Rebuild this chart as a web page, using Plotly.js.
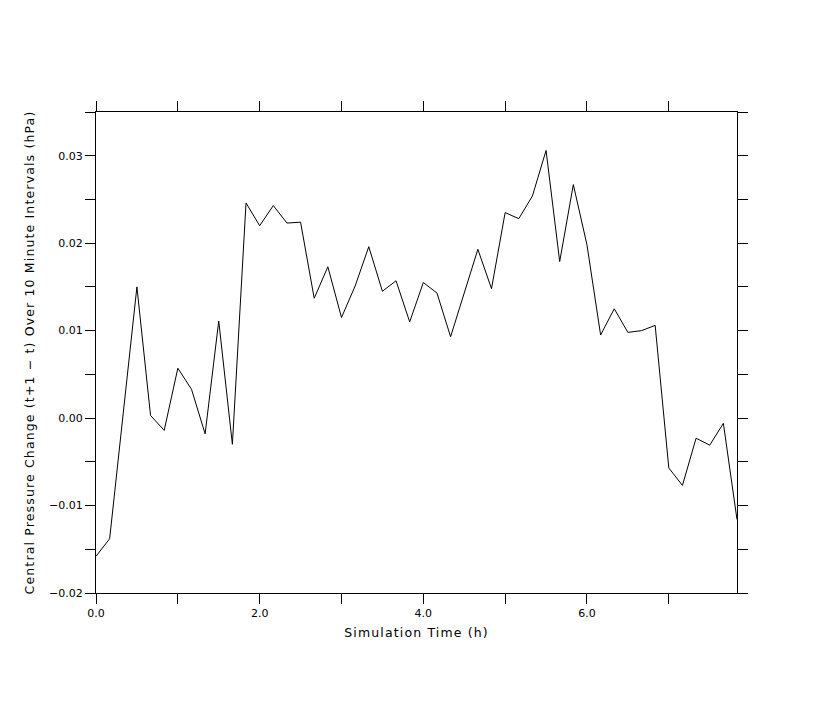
<!DOCTYPE html>
<html>
<head>
<meta charset="utf-8">
<script src="https://cdn.plot.ly/plotly-3.0.1.min.js"></script>
<style>
body{margin:0;background:#fff}
#chart{width:819px;height:706px}
#chart .xtitle, #chart .ytitle {letter-spacing: 1.15px;}
</style>
</head>
<body>
<div id="chart"></div>
<script>
// Time in hours (10-minute steps)
const stepIndex = [0,1,2,3,4,5,6,7,8,9,10,11,12,13,14,15,16,17,18,19,20,21,22,23,24,25,26,27,28,29,30,31,32,33,34,35,36,37,38,39,40,41,42,43,44,45,46,47];
const pressureChange = [
  -0.0158, -0.0138, 0.0006, 0.0150, 0.0003, -0.0014, 0.0057, 0.0033, -0.0018, 0.0111,
  -0.0030, 0.0246, 0.0220, 0.0243, 0.0223, 0.0224, 0.0137, 0.0173, 0.0115, 0.0151,
  0.0196, 0.0145, 0.0157, 0.0110, 0.0155, 0.0143, 0.0093, 0.0142, 0.0193, 0.0148,
  0.0235, 0.0228, 0.0254, 0.0306, 0.0179, 0.0267, 0.0198, 0.0095, 0.0125, 0.0098,
  0.0100, 0.0106, -0.0057, -0.0077, -0.0023, -0.0031, -0.0006, -0.0116
];
const xTickVals = [0,1,2,3,4,5,6,7];
const xTickText = ["0.0","","2.0","","4.0","","6.0",""];
const yTickVals = [-0.02,-0.015,-0.01,-0.005,0,0.005,0.01,0.015,0.02,0.025,0.03,0.035];
const yTickText = ["−0.02","","−0.01","","0.00","","0.01","","0.02","","0.03",""];

const timeHours = stepIndex.map(i => i / 6);

const font = {family: "DejaVu Sans", size: 12, color: "#000"};

Plotly.newPlot("chart", [{
  x: timeHours,
  y: pressureChange,
  type: "scatter",
  mode: "lines",
  line: {color: "#000", width: 1},
  hoverinfo: "skip"
}], {
  width: 819, height: 706,
  margin: {l: 96, r: 82, t: 112, b: 113},
  paper_bgcolor: "#fff", plot_bgcolor: "#fff",
  showlegend: false,
  font: font,
  xaxis: {
    range: [0, 47/6],
    tickvals: xTickVals, ticktext: xTickText,
    ticks: "outside", ticklen: 10, tickwidth: 1, tickcolor: "#000",
    showline: true, linecolor: "#000", linewidth: 1, mirror: "ticks",
    showgrid: false, zeroline: false,
    tickfont: {family: "DejaVu Sans", size: 11, color: "#000"},
    title: {text: "Simulation Time (h)", font: {family: "DejaVu Sans", size: 12.5, color: "#000"}, standoff: 9}
  },
  yaxis: {
    range: [-0.02, 0.035],
    tickvals: yTickVals, ticktext: yTickText,
    ticks: "outside", ticklen: 10, tickwidth: 1, tickcolor: "#000",
    showline: true, linecolor: "#000", linewidth: 1, mirror: "ticks",
    showgrid: false, zeroline: false,
    tickfont: {family: "DejaVu Sans", size: 11, color: "#000"},
    title: {text: "Central Pressure Change (t+1 − t) Over 10 Minute Intervals (hPa)", font: {family: "DejaVu Sans", size: 12.5, color: "#000"}, standoff: 11}
  }
}, {displayModeBar: false, staticPlot: true});
</script>
</body>
</html>
